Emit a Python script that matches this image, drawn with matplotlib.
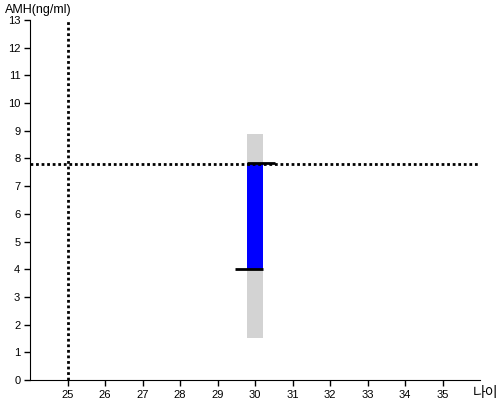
import matplotlib.pyplot as plt

# data
age = [30]
range_low = [1.5]
range_high = [8.9]
amh_low = [4.0]
amh_high = [7.82]
ref_age = 25
ref_amh = 7.8
x_ticks = list(range(25, 36))
y_ticks = list(range(0, 14))

plt.rcParams['font.family'] = ['Liberation Sans', 'Noto Sans CJK KR', 'DejaVu Sans']

fig = plt.figure(figsize=(5, 4), dpi=100)
ax = fig.add_axes([0.06, 0.05, 0.90, 0.90])

bar_w = 0.43
ax.bar(age, [h - l for l, h in zip(range_low, range_high)], bottom=range_low,
       width=bar_w, color='#d3d3d3', zorder=1)
ax.bar(age, [h - l for l, h in zip(amh_low, amh_high)], bottom=amh_low,
       width=bar_w, color='#0000ff', zorder=2)

# reference lines
ax.axvline(ref_age, color='black', ls=(0, (1, 1)), lw=2, zorder=3)
ax.axhline(ref_amh, color='black', ls=(0, (1, 1)), lw=2, zorder=3)

# black end markers
for a, lo, hi in zip(age, amh_low, amh_high):
    ax.hlines(lo, a + bar_w / 2 - 0.74, a + bar_w / 2, color='black', lw=2,
              zorder=4, capstyle='butt')
    ax.hlines(hi, a - bar_w / 2, a - bar_w / 2 + 0.74, color='black', lw=2,
              zorder=4, capstyle='butt')

ax.set_xlim(24, 36)
ax.set_ylim(0, 13)
ax.set_xticks(x_ticks)
ax.set_yticks(y_ticks)
ax.tick_params(labelsize=8, length=4, width=1, pad=3)
for s in ['top', 'right']:
    ax.spines[s].set_visible(False)

fig.text(0.01, 0.975, 'AMH(ng/ml)', fontsize=9, va='center', ha='left')
fig.text(0.945, 0.018, '나이', fontsize=10, va='center', ha='left')

fig.savefig('out.png', dpi=100)
